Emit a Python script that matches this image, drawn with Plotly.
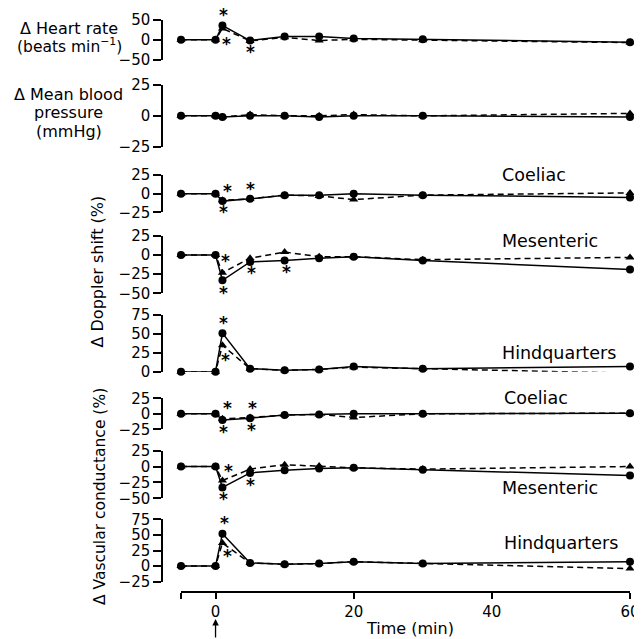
import plotly.graph_objects as go

# The page body keeps an 8 px margin, so the figure is sized to fill the
# rest of the 642x639 window and every position is given in window pixels.
OFF = 8
W, H = 642 - OFF, 639 - OFF
FONT = "DejaVu Sans"


def fx(xpx):
    return (xpx - OFF) / W


def fy(ypx):
    return 1 - (ypx - OFF) / H


time_min = [-5, 0, 1, 5, 10, 15, 20, 30, 60]

# Solid line / circles (series A) and dashed line / triangles (series B)
hr_a = [0, 0, 35, -2, 8, 8, 3, 1, -6]
hr_b = [0, 0, 28, -3, 6, -2, 1, -1, -7]
mbp_a = [0, 0, -1, 0, 0, -1, 0, 0, -1]
mbp_b = [0, 0, -1, 1, 0, 0, 1, 0, 2]
coel_dop_a = [0, 0, -10, -7, -2, -2, 0, -2, -5]
coel_dop_b = [0, 0, -9, -7, -2, -3, -8, -2, 1]
mes_dop_a = [0, 0, -33, -9, -7, -4, -2, -7, -19]
mes_dop_b = [0, 0, -23, -4, 4, -2, -2, -6, -3]
hind_dop_a = [0, 0, 51, 4, 2, 3, 7, 4, 7]
hind_dop_b = [0, 0, 35, 4, 2, 3, 6, 4, -2]
coel_vc_a = [0, 0, -10, -7, -2, -1, 0, 0, 1]
coel_vc_b = [0, 0, -8, -6, -2, -1, -6, 0, 1]
mes_vc_a = [0, 0, -33, -10, -6, -3, -2, -5, -14]
mes_vc_b = [0, 0, -22, -4, 3, 1, -2, -4, 0]
hind_vc_a = [0, 0, 52, 5, 3, 4, 7, 4, 7]
hind_vc_b = [0, 0, 37, 5, 3, 4, 7, 4, -4]

# significance asterisks: times and values per panel
star_t = [
    [1.15, 1.6, 5.0],
    [],
    [1.7, 1.15, 5.1],
    [1.5, 1.15, 5.2, 10.2],
    [1.15, 1.5],
    [1.7, 1.1, 5.35, 5.15],
    [1.9, 1.1, 5.0],
    [1.3, 1.7],
]
star_v = [
    [65, -8, -27],
    [],
    [5, -23, 8],
    [-6, -47, -21, -20],
    [66, 18],
    [12, -27, 11, -23],
    [-4, -48, -26],
    [71, 19],
]

# panel specs: series, y range, ticks, pixel top, pixel bottom
panels = [
    (hr_a, hr_b, [-50, 50], [-50, 0, 50], 19.5, 60),
    (mbp_a, mbp_b, [-25, 25], [-25, 0, 25], 85, 146.7),
    (coel_dop_a, coel_dop_b, [-25, 25], [-25, 0, 25], 175, 212.3),
    (mes_dop_a, mes_dop_b, [-50, 25], [-50, -25, 0, 25], 236, 293.3),
    (hind_dop_a, hind_dop_b, [0, 75], [0, 25, 50, 75], 315, 371.7),
    (coel_vc_a, coel_vc_b, [-25, 25], [-25, 0, 25], 398.3, 429.3),
    (mes_vc_a, mes_vc_b, [-50, 25], [-50, -25, 0, 25], 450.7, 498.3),
    (hind_vc_a, hind_vc_b, [-25, 75], [-25, 0, 25, 50, 75], 519.3, 581.7),
]

fig = go.Figure()
layout = dict(
    width=W, height=H, margin=dict(l=0, r=0, t=0, b=0, pad=0),
    paper_bgcolor="white", plot_bgcolor="white", showlegend=False,
    font=dict(family=FONT, color="black", size=14),
)
layout["xaxis"] = dict(
    domain=[fx(181), fx(630)], range=[-5, 60], anchor="free",
    position=fy(592), showline=True, linecolor="black", linewidth=1.5,
    ticks="outside", ticklen=6, tickwidth=1.5, tickcolor="black",
    tickvals=[-5, 0, 20, 40, 60], ticktext=["", "0", "20", "40", "60"],
    showgrid=False, zeroline=False, tickfont=dict(size=15, color="black"),
    automargin=False,
)

annotations = []
for i, (a, b, rng, tv, top, bot) in enumerate(panels):
    n = i + 1
    yname = "yaxis" if n == 1 else f"yaxis{n}"
    yref = "y" if n == 1 else f"y{n}"
    layout[yname] = dict(
        domain=[fy(bot), fy(top)], range=rng, anchor="free",
        position=fx(162), showline=True, linecolor="black", linewidth=1.5,
        ticks="outside", ticklen=8, tickwidth=1.5, tickcolor="black",
        tickvals=tv, showgrid=False, zeroline=False,
        tickfont=dict(size=15, color="black"), automargin=False,
    )
    fig.add_trace(go.Scatter(
        x=time_min, y=b, xaxis="x", yaxis=yref, mode="lines+markers",
        line=dict(color="black", width=1.5, dash="6px,4px"),
        marker=dict(symbol="triangle-up", size=8, color="black"),
        cliponaxis=False,
    ))
    fig.add_trace(go.Scatter(
        x=time_min, y=a, xaxis="x", yaxis=yref, mode="lines+markers",
        line=dict(color="black", width=1.5),
        marker=dict(symbol="circle", size=8, color="black"),
        cliponaxis=False,
    ))
    # asterisks: paper position from the panel's linear value scale
    for sx, sv in zip(star_t[i], star_v[i]):
        ypx = top + (rng[1] - sv) / (rng[1] - rng[0]) * (bot - top)
        annotations.append(dict(
            x=sx, y=fy(ypx), xref="x", yref="paper", text="<b>*</b>",
            showarrow=False, yanchor="middle", yshift=-1.5,
            font=dict(size=17, family=FONT, color="black"),
        ))


def ptext(txt, xpx, ypx, size, xanchor="center", angle=0):
    annotations.append(dict(
        x=fx(xpx), y=fy(ypx), xref="paper", yref="paper", text=txt,
        showarrow=False, xanchor=xanchor, yanchor="middle", textangle=angle,
        font=dict(size=size, family=FONT, color="black"),
    ))


ptext("Δ Heart rate", 68.5, 29, 16)
ptext("(beats min<sup>−1</sup>)", 69, 46, 15.5)
ptext("Δ Mean blood", 68.5, 94, 16)
ptext("pressure", 68.5, 112.5, 16)
ptext("(mmHg)", 68.5, 131, 16)
ptext("Δ Doppler shift (%)", 96.5, 272, 16, angle=-90)
ptext("Δ Vascular conductance (%)", 100, 497, 15.5, angle=-90)
ptext("Coeliac", 500, 175, 17.5, xanchor="left")
ptext("Mesenteric", 500, 241.5, 17.5, xanchor="left")
ptext("Hindquarters", 500, 352.5, 17.5, xanchor="left")
ptext("Coeliac", 502, 398, 17.5, xanchor="left")
ptext("Mesenteric", 500, 488, 17.5, xanchor="left")
ptext("Hindquarters", 502, 543, 17.5, xanchor="left")
ptext("Time (min)", 410, 628, 16)

annotations.append(dict(
    x=0, y=fy(619), xref="x", yref="paper", text="", showarrow=True,
    ax=0, ay=20, arrowhead=2, arrowsize=1, arrowwidth=1.3, arrowcolor="black",
))

layout["annotations"] = annotations
fig.update_layout(**layout)
fig.write_html("out.html")
